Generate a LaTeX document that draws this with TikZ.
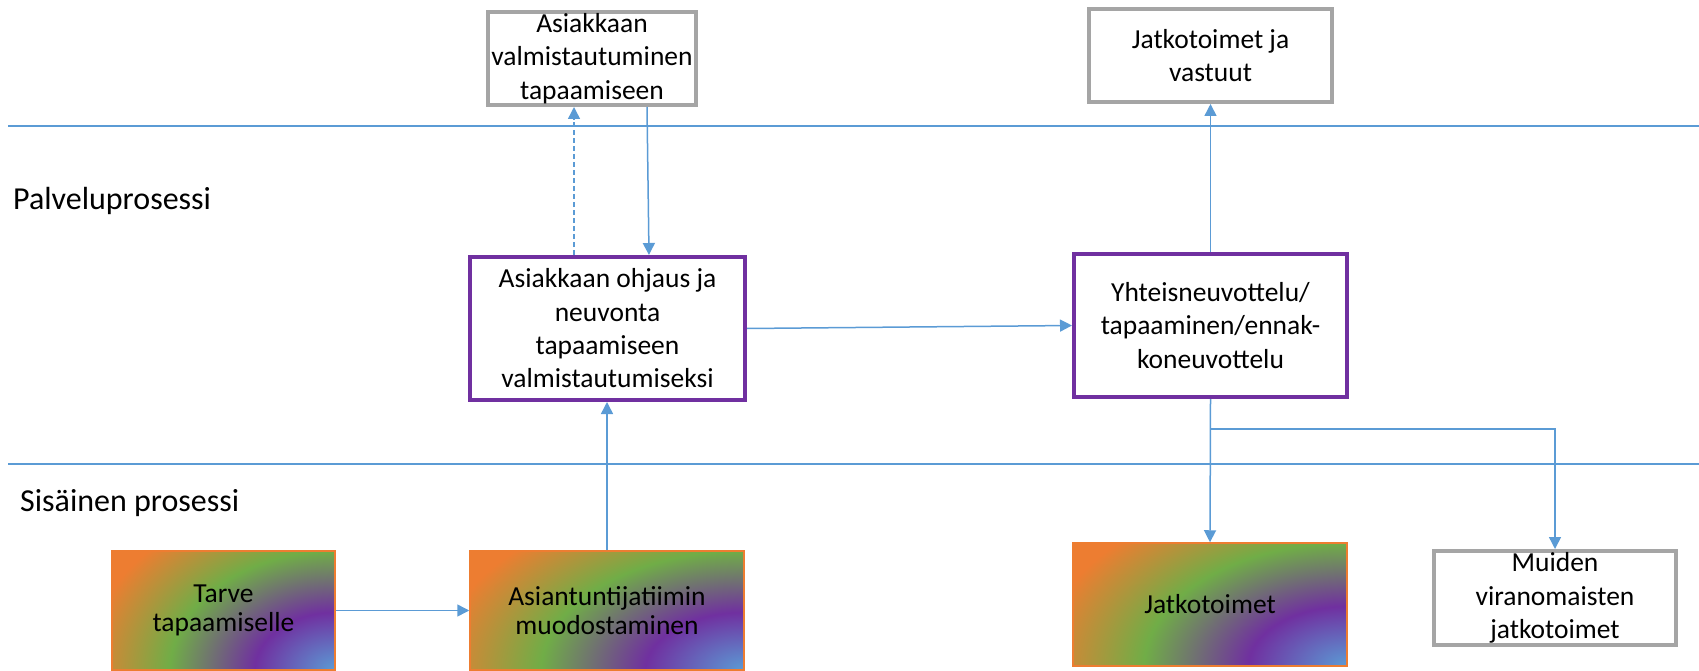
\documentclass[tikz,border=0pt]{standalone}
\usepackage{fontspec}
\setmainfont{Carlito}
\usetikzlibrary{arrows.meta,calc}

\definecolor{linkblue}{RGB}{91,155,213}
\definecolor{boxpurple}{RGB}{112,48,160}
\definecolor{boxgray}{RGB}{165,165,165}
\definecolor{gorange}{RGB}{237,125,49}
\definecolor{ggreen}{RGB}{112,173,71}
\definecolor{gpurple}{RGB}{112,48,160}
\definecolor{gblue}{RGB}{91,155,213}

% corner glow: blue in the lower right corner, fading through purple and green to orange
\pgfdeclareradialshading{cornerglow}{\pgfpointorigin}{%
  color(0bp)=(gblue); color(9bp)=(gpurple); color(18.5bp)=(ggreen);
  color(28bp)=(gorange); color(50bp)=(gorange)}

\newcommand\bxfont{\fontsize{27.5}{33.3}\selectfont}
\newcommand\grfont{\fontsize{27.5}{29}\selectfont}
\newcommand\lanefont{\fontsize{32}{38}\selectfont}

\tikzset{
  outbox/.style={draw=boxgray, line width=4pt, fill=white, inner sep=0pt,
    align=center, font=\bxfont},
  procbox/.style={draw=boxpurple, line width=4pt, fill=white, inner sep=0pt,
    align=center, font=\bxfont},
  gradbox/.style={draw=gorange, line width=1.5pt, inner sep=0pt,
    align=center, font=\grfont,
    path picture={\shade[shading=cornerglow]
      let \p1=(path picture bounding box.north west),
          \p2=(path picture bounding box.south east) in
      ({2*\x2-\x1},{\y2-1.35*(\y1-\y2)}) rectangle
      ({\x1},{\y2+1.35*(\y1-\y2)});}},
  link/.style={draw=linkblue, line width=1.5pt,
    -{Triangle[length=12pt,width=12pt]}},
  lane/.style={draw=linkblue, line width=1.5pt},
  lanelabel/.style={anchor=base west, inner sep=0pt, font=\lanefont}
}

\begin{document}
\begin{tikzpicture}[x=1pt,y=-1pt]
\useasboundingbox (0,0) rectangle (1699,671);

% swimlane separators
\coordinate (l1a) at (8,126);   \coordinate (l1b) at (1699,126);
\coordinate (l2a) at (8,464);   \coordinate (l2b) at (1699,464);
\draw[lane] (l1a) -- (l1b);
\draw[lane] (l2a) -- (l2b);

\node[lanelabel] (lp) at (13,210) {Palveluprosessi};
\node[lanelabel] (ls) at (20,511) {Sisäinen prosessi};

% customer-facing outputs
\node[outbox, minimum width=208pt, minimum height=93pt] (g1) at (592,58.5)
  {Asiakkaan\\valmistautuminen\\tapaamiseen};
\node[outbox, minimum width=243pt, minimum height=93pt] (g2) at (1210.5,55.5)
  {Jatkotoimet ja\\vastuut};

% service process
\node[procbox, minimum width=275pt, minimum height=143pt] (p1) at (607.5,328.5)
  {Asiakkaan ohjaus ja\\neuvonta\\tapaamiseen\\valmistautumiseksi};
\node[procbox, minimum width=273pt, minimum height=143pt] (p2) at (1210.5,325.5)
  {Yhteisneuvottelu/\\tapaaminen/ennak-\\koneuvottelu};

% internal process
\node[gradbox, minimum width=223pt, minimum height=119pt] (t1) at (223.5,610.5)
  {Tarve\\tapaamiselle};
\node[gradbox, minimum width=274pt, minimum height=119pt] (a2) at (607,610.5)
  {Asiantuntijatiimin\\muodostaminen};
\node[gradbox, minimum width=274pt, minimum height=123pt] (j1) at (1210,604.5)
  {Jatkotoimet};
\node[outbox, minimum width=242pt, minimum height=94pt] (m1) at (1555,598)
  {Muiden\\viranomaisten\\jatkotoimet};

% connectors
\draw[link] (t1.east) -- (a2.west);
\draw[link] (a2.north) -- (a2.north |- p1.south);
\draw[link, dash pattern=on 5pt off 3pt] ([xshift=-33.5pt]p1.north) -- ([xshift=-18pt]g1.south);
\draw[link] ([xshift=55pt]g1.south) -- ([xshift=41.5pt]p1.north);
\draw[link] (p1.east) -- (p2.west);
\draw[link] (p2.north) -- (g2.south);
\draw[link] (p2.south) -- (j1.north);
\coordinate (fork) at ([yshift=-30pt]p2.south);
\draw[link] (fork) -| (m1.north);
\end{tikzpicture}
\end{document}
